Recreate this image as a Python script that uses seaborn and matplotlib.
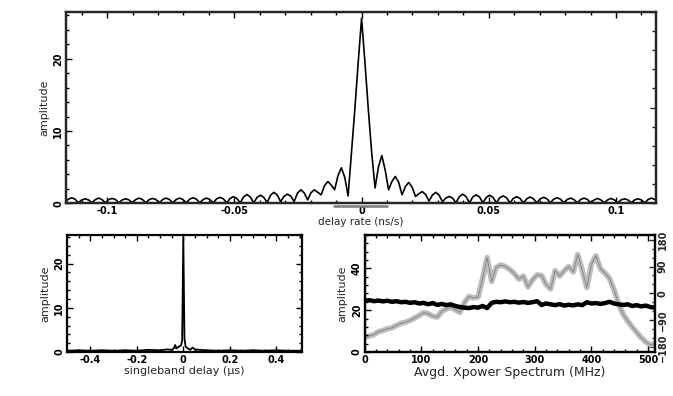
import numpy as np
import pandas as pd
import seaborn as sns
import matplotlib
matplotlib.use("Agg")
import matplotlib.pyplot as plt
from matplotlib.ticker import MultipleLocator, FuncFormatter

sns.set_style("ticks")
plt.rcParams["font.family"] = ["DejaVu Sans"]

# delay-rate fringe amplitude, sampled on a regular grid
rate_step = 0.001325
rate_amp = [
    0.05, 0.55, 0.75, 0.55, 0.05, 0.45, 0.6, 0.45, 0.05, 0.5, 0.7, 0.5,
    0.05, 0.5, 0.65, 0.5, 0.05, 0.45, 0.6, 0.45, 0.05, 0.5, 0.7, 0.5,
    0.05, 0.5, 0.65, 0.5, 0.05, 0.5, 0.7, 0.5, 0.05, 0.5, 0.7, 0.5,
    0.05, 0.55, 0.75, 0.55, 0.05, 0.5, 0.7, 0.5, 0.05, 0.6, 0.8, 0.6,
    0.05, 0.65, 0.9, 0.65, 0.05, 0.85, 1.2, 0.85, 0.05, 0.8, 1.1, 0.8,
    0.1, 1.1, 1.5, 1.1, 0.2, 0.95, 1.25, 0.95, 0.23, 1.4, 1.85, 1.4,
    0.46, 1.45, 1.85, 1.5, 1.16, 2.4, 3.0, 2.5, 1.85, 3.8, 4.9, 3.6,
    1.0, 7.0, 13.0, 19.5,
    25.6,
    19.5, 13.0, 7.0,
    2.1, 5.0, 6.6, 4.6, 1.85, 3.0, 3.7, 2.9, 1.16, 2.3, 2.87, 2.2,
    0.93, 1.3, 1.6, 1.2, 0.3, 1.1, 1.5, 1.1, 0.2, 0.7, 0.93, 0.7,
    0.05, 0.9, 1.25, 0.9, 0.05, 0.85, 1.15, 0.85, 0.05, 0.8, 1.1, 0.8,
    0.05, 0.75, 1.0, 0.75, 0.05, 0.65, 0.9, 0.65, 0.05, 0.6, 0.85, 0.6,
    0.05, 0.6, 0.8, 0.6, 0.05, 0.55, 0.75, 0.55, 0.05, 0.5, 0.7, 0.5,
    0.05, 0.5, 0.7, 0.5, 0.05, 0.45, 0.65, 0.45, 0.05, 0.45, 0.65, 0.45,
    0.05, 0.45, 0.6, 0.45, 0.05, 0.45, 0.6, 0.45, 0.05, 0.5, 0.7, 0.5,
    0.05,
]
delay_rate = np.arange(-88, 89) * rate_step
search_window = [-0.0114, 0.0102]

# singleband delay amplitude
sbd_delay = [-0.5, -0.45, -0.4, -0.35, -0.3, -0.25, -0.2, -0.15, -0.1, -0.07,
             -0.05, -0.04, -0.035, -0.03, -0.02, -0.01, -0.005, 0.0, 0.005,
             0.01, 0.02, 0.03, 0.04, 0.05, 0.07, 0.1, 0.15, 0.2, 0.25, 0.3,
             0.35, 0.4, 0.45, 0.5]
sbd_amp = [0.3, 0.4, 0.3, 0.4, 0.3, 0.4, 0.3, 0.5, 0.4, 0.6, 0.5, 0.9, 1.6,
           0.8, 1.2, 1.5, 2.5, 26.0, 3.0, 1.2, 0.8, 0.5, 1.0, 0.6, 0.5, 0.4,
           0.3, 0.4, 0.3, 0.4, 0.3, 0.4, 0.3, 0.3]

# averaged cross-power spectrum
freq = np.arange(0, 513, 8)
xp_amp = [24.5, 24.8, 24.3, 24.6, 24.2, 24.5, 24.0, 24.3, 23.8, 24.0, 23.5,
          23.8, 23.2, 23.5, 22.8, 23.4, 22.5, 23.0, 22.4, 22.8, 22.0, 21.5,
          21.2, 21.0, 21.5, 21.2, 22.0, 21.0, 23.5, 24.0, 23.8, 24.2, 23.8,
          24.0, 23.6, 23.9, 23.5, 23.8, 24.3, 22.5, 23.2, 22.8, 22.4, 22.9,
          22.2, 22.6, 22.3, 22.8, 22.4, 23.8, 23.2, 23.4, 23.0, 23.4, 24.0,
          23.2, 22.8, 22.5, 22.8, 22.0, 22.4, 21.8, 22.2, 21.5, 21.2]
xp_phase = [-148, -142, -138, -128, -124, -118, -115, -107, -100, -96, -90,
            -82, -74, -64, -68, -76, -79, -60, -52, -46, -55, -63, -30, -10,
            -15, -12, 50, 120, 40, 87, 95, 90, 80, 66, 48, 58, 22, 45, 62, 60,
            30, 15, 76, 58, 76, 90, 72, 130, 76, 20, 98, 126, 82, 68, 50, 12,
            -35, -70, -92, -112, -130, -148, -162, -172, -168]

rate_df = pd.DataFrame({"rate": delay_rate, "amp": rate_amp})
sbd_df = pd.DataFrame({"delay": sbd_delay, "amp": sbd_amp})
xp_df = pd.DataFrame({"freq": freq, "amp": xp_amp, "phase": xp_phase})

fig = plt.figure(figsize=(6.73, 3.96), dpi=100)
ax1 = fig.add_axes([0.098, 0.487, 0.877, 0.483])
ax2 = fig.add_axes([0.0996, 0.111, 0.349, 0.296])
ax3 = fig.add_axes([0.542, 0.111, 0.431, 0.296])


def style(ax, fs=7):
    for s in ax.spines.values():
        s.set_linewidth(1.6)
        s.set_color("black")
    ax.tick_params(which="both", direction="in", top=True, right=True,
                   labelsize=fs, pad=2, width=1.0, colors="black")
    ax.tick_params(which="major", length=4)
    ax.tick_params(which="minor", length=2)
    for lab in ax.get_yticklabels():
        lab.set_rotation(90)
        lab.set_va("center")
    for lab in ax.get_xticklabels() + ax.get_yticklabels():
        lab.set_fontweight("bold")


fmt = FuncFormatter(lambda v, p: "0" if abs(v) < 1e-9 else "%g" % v)

# top: delay rate
sns.lineplot(data=rate_df, x="rate", y="amp", ax=ax1, color="black",
             linewidth=1.2, sort=False, estimator=None)
ax1.plot(search_window, [-0.4, -0.4], color="#7a7a7a", linewidth=1.8,
         clip_on=False, solid_capstyle="butt")
ax1.set_xlim(-0.1162, 0.1158)
ax1.set_ylim(0, 26.5)
ax1.xaxis.set_major_locator(MultipleLocator(0.05))
ax1.xaxis.set_minor_locator(MultipleLocator(0.01))
ax1.xaxis.set_major_formatter(fmt)
ax1.yaxis.set_major_locator(MultipleLocator(10))
ax1.yaxis.set_minor_locator(MultipleLocator(2))
ax1.set_xlabel("delay rate (ns/s)", fontsize=7.5, labelpad=1)
ax1.set_ylabel("amplitude", fontsize=8, labelpad=3)
style(ax1)
ax1.tick_params(which="both", right=False)
tw = ax1.twinx()
tw.set_ylim(0, 10)
tw.yaxis.set_major_locator(MultipleLocator(5))
tw.yaxis.set_minor_locator(MultipleLocator(1))
tw.tick_params(which="both", direction="in", labelright=False, width=1.0)
tw.tick_params(which="major", length=4)
tw.tick_params(which="minor", length=3)
for s in tw.spines.values():
    s.set_linewidth(1.6)

# bottom left: singleband delay
sns.lineplot(data=sbd_df, x="delay", y="amp", ax=ax2, color="black",
             linewidth=1.3, sort=False, estimator=None)
ax2.set_xlim(-0.5, 0.51)
ax2.set_ylim(0, 26.5)
ax2.xaxis.set_major_locator(MultipleLocator(0.2))
ax2.xaxis.set_minor_locator(MultipleLocator(0.05))
ax2.xaxis.set_major_formatter(fmt)
ax2.yaxis.set_major_locator(MultipleLocator(10))
ax2.yaxis.set_minor_locator(MultipleLocator(2))
ax2.set_xlabel("singleband delay (\u03bcs)", fontsize=8, labelpad=1)
ax2.set_ylabel("amplitude", fontsize=8, labelpad=3)
style(ax2)

# bottom right: cross-power spectrum amplitude and phase
ph = ax3.twinx()
sns.lineplot(data=xp_df, x="freq", y="phase", ax=ph, color="#bdbdbd",
             linewidth=4, sort=False, estimator=None)
sns.lineplot(data=xp_df, x="freq", y="phase", ax=ph, color="#808080",
             linewidth=0.6, sort=False, estimator=None)
sns.lineplot(data=xp_df, x="freq", y="amp", ax=ax3, color="black",
             linewidth=3.2, sort=False, estimator=None)
ax3.set_zorder(ph.get_zorder() + 1)
ax3.patch.set_visible(False)
ax3.set_xlim(0, 512)
ax3.set_ylim(0, 56)
ax3.xaxis.set_major_locator(MultipleLocator(100))
ax3.xaxis.set_minor_locator(MultipleLocator(20))
ax3.yaxis.set_major_locator(MultipleLocator(20))
ax3.yaxis.set_minor_locator(MultipleLocator(4))
ax3.set_xlabel("Avgd. Xpower Spectrum (MHz)", fontsize=9, labelpad=1)
ax3.set_ylabel("amplitude", fontsize=8, labelpad=3)
style(ax3)
ax3.tick_params(which="both", right=False)
ph.set_ylim(-196, 196)
ph.set_ylabel("")
ph.yaxis.set_major_locator(MultipleLocator(90))
ph.yaxis.set_minor_locator(MultipleLocator(30))
ph.tick_params(which="both", direction="in", labelsize=7, pad=2, width=1.0)
ph.tick_params(which="major", length=4)
ph.tick_params(which="minor", length=2)
for lab in ph.get_yticklabels():
    lab.set_rotation(90)
    lab.set_va("center")
    lab.set_fontweight("bold")
for s in ph.spines.values():
    s.set_linewidth(1.6)

fig.savefig("out.png", dpi=100)
